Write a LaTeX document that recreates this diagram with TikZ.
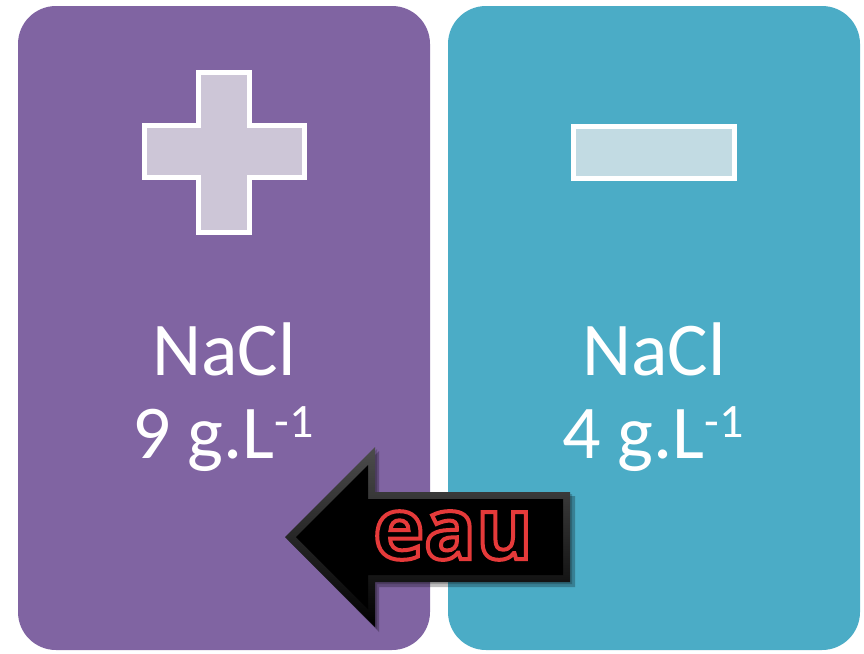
\documentclass[tikz,border=0pt]{standalone}
\usepackage{fontspec}
\setmainfont{Carlito}
\newfontfamily\eaufont{Open Sans}
\usetikzlibrary{calc}
\definecolor{boxpurple}{HTML}{8064A2}
\definecolor{boxteal}{HTML}{4BACC6}
\definecolor{plusfill}{HTML}{CDC6D7}
\definecolor{minusfill}{HTML}{C2DBE3}
\definecolor{eaured}{HTML}{E53A3A}
\newcommand{\supone}{\raisebox{21pt}{\fontsize{48}{50}\selectfont -1}}
\tikzset{
  panel/.style={rounded corners=38pt, minimum width=412pt, minimum height=644pt, inner sep=0pt, draw=none},
  signshape/.style={draw=white, line width=5pt, line join=miter},
  label/.style={text=white, inner sep=0pt, anchor=base, font=\fontsize{76}{80}\selectfont},
}
\begin{document}
\begin{tikzpicture}[x=1pt, y=-1pt]
\useasboundingbox (0,0) rectangle (864,653);
\fill[white] (0,0) rectangle (864,653);
% panels
\node[panel, fill=boxpurple] (leftbox) at (224,328) {};
\node[panel, fill=boxteal] (rightbox) at (654,328) {};
% plus sign
\path[signshape, fill=plusfill]
  (198.5,72.5) -- (249.5,72.5) -- (249.5,125.5) -- (304.5,125.5) -- (304.5,177.5)
  -- (249.5,177.5) -- (249.5,232.5) -- (198.5,232.5) -- (198.5,177.5) -- (144.5,177.5)
  -- (144.5,125.5) -- (198.5,125.5) -- cycle;
% minus sign
\path[signshape, fill=minusfill] (573.5,126.5) rectangle (734.5,178.5);
% texts
\node[label] (salt1) at (224,375) {NaCl};
\node[label] (conc1) at (223,458) {9 g.L\supone};
\node[label] (salt2) at (654,375) {NaCl};
\node[label] (conc2) at (653,458) {4 g.L\supone};
% arrow shadow
\fill[black, opacity=0.25] (289,541) -- (379,451) -- (379,496) -- (575,496) -- (575,587)
  -- (379,587) -- (379,632) -- cycle;
\fill[black, opacity=0.2] (287,539) -- (377,449) -- (377,494) -- (572,494) -- (572,584)
  -- (377,584) -- (377,629) -- cycle;
% arrow bevel
\shade[top color=black!70, bottom color=black]
  (285,537) -- (375,447) -- (375,492) -- (570,492) -- (570,582)
  -- (375,582) -- (375,627) -- cycle;
\fill[black]
  (296,537) -- (368,465) -- (368,499) -- (563,499) -- (563,575)
  -- (368,575) -- (368,609) -- cycle;
% eau
\node[inner sep=0pt, anchor=base, text=eaured] (eau) at (453,559)
  {\special{pdf:literal direct 1 Tr 4 w}\eaufont\bfseries\fontsize{86}{90}\selectfont eau\special{pdf:literal direct 0 Tr}};
\end{tikzpicture}
\end{document}
